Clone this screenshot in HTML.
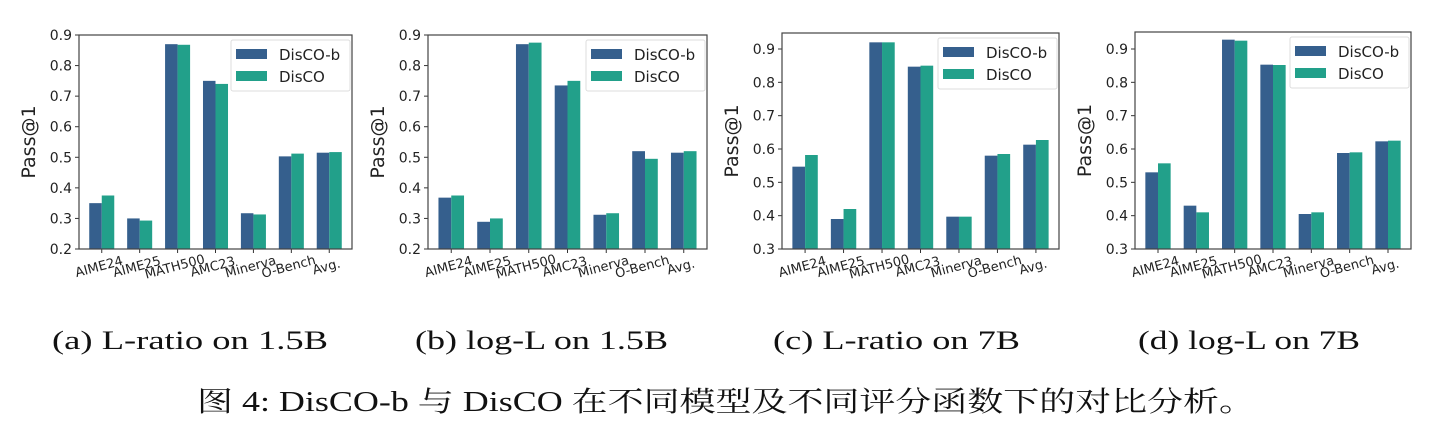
<!DOCTYPE html>
<html><head><meta charset="utf-8"><style>
html,body{margin:0;padding:0;background:#fff;}
svg{display:block;}
</style></head><body>
<svg id="s" width="1446" height="442" xmlns="http://www.w3.org/2000/svg" font-family="'DejaVu Sans','Liberation Sans',sans-serif">
<g font-family="'Liberation Serif',serif" font-size="26" fill="#111">
<text x="52" y="349" textLength="276" lengthAdjust="spacingAndGlyphs">(a) L-ratio on 1.5B</text>
<text x="415" y="349" textLength="253" lengthAdjust="spacingAndGlyphs">(b) log-L on 1.5B</text>
<text x="773" y="349" textLength="247" lengthAdjust="spacingAndGlyphs">(c) L-ratio on 7B</text>
<text x="1138" y="349" textLength="222" lengthAdjust="spacingAndGlyphs">(d) log-L on 7B</text>
</g>
<text x="197" y="411" font-family="'Liberation Serif','Noto Serif CJK SC',serif" font-size="28" fill="#111" textLength="1058" lengthAdjust="spacingAndGlyphs">图 4: DisCO-b 与 DisCO 在不同模型及不同评分函数下的对比分析。</text>
</svg>
<script>
var NS="http://www.w3.org/2000/svg",s=document.getElementById('s');
function el(t,a,txt){var e=document.createElementNS(NS,t);for(var k in a)e.setAttribute(k,a[k]);if(txt!=null)e.textContent=txt;s.appendChild(e);return e;}
var cats=["AIME24","AIME25","MATH500","AMC23","Minerva","O-Bench","Avg."];
var P=[
{l:79,r:352,t:35,b:249,y0:0.2,y1:0.9,ticks:[0.2,0.3,0.4,0.5,0.6,0.7,0.8,0.9],
 B:[.35,.30,.87,.75,.317,.503,.515],D:[.375,.293,.868,.74,.313,.512,.517]},
{l:428,r:707,t:35,b:249,y0:0.2,y1:0.9,ticks:[0.2,0.3,0.4,0.5,0.6,0.7,0.8,0.9],
 B:[.368,.289,.87,.735,.312,.52,.515],D:[.375,.30,.875,.75,.317,.495,.52]},
{l:782,r:1059,t:33,b:249,y0:0.3,y1:0.948,ticks:[0.3,0.4,0.5,0.6,0.7,0.8,0.9],
 B:[.547,.39,.92,.847,.397,.58,.613],D:[.582,.42,.92,.85,.397,.585,.627]},
{l:1135,r:1411,t:32,b:249,y0:0.3,y1:0.951,ticks:[0.3,0.4,0.5,0.6,0.7,0.8,0.9],
 B:[.53,.43,.928,.853,.405,.588,.623],D:[.557,.41,.925,.852,.41,.59,.625]}];
var CB="#355f8d",CD="#22a08a";
P.forEach(function(p){
 var W=p.r-p.l,H=p.b-p.t,gx=W/7.2,bw=gx*0.33;
 function Y(v){return p.b-(v-p.y0)/(p.y1-p.y0)*H;}
 for(var i=0;i<7;i++){
  var cx=p.l+(i+0.6)*gx;
  el('rect',{x:cx-bw,y:Y(p.B[i]),width:bw,height:p.b-Y(p.B[i]),fill:CB});
  el('rect',{x:cx,y:Y(p.D[i]),width:bw,height:p.b-Y(p.D[i]),fill:CD});
  el('line',{x1:cx,x2:cx,y1:p.b,y2:p.b+4,stroke:"#333","stroke-width":1});
  el('text',{x:cx-3,y:p.b+22,"font-size":13,"text-anchor":"middle",fill:"#222",transform:"rotate(-15 "+(cx-3)+" "+(p.b+17)+")"},cats[i]);
 }
 p.ticks.forEach(function(v){var y=Y(v);
  el('line',{x1:p.l-4,x2:p.l,y1:y,y2:y,stroke:"#333","stroke-width":1});
  el('text',{x:p.l-7,y:y+5,"font-size":14,"text-anchor":"end",fill:"#222"},v.toFixed(1));});
 el('rect',{x:p.l,y:p.t,width:W,height:H,fill:"none",stroke:"#444","stroke-width":1.2});
 var yc=(p.t+p.b)/2,lx=p.l-44;
 el('text',{x:lx,y:yc,"font-size":19,"text-anchor":"middle",fill:"#222",transform:"rotate(-90 "+lx+" "+yc+")"},"Pass@1");
 var bx=p.r-121,by=p.t+5;
 el('rect',{x:bx,y:by,width:119,height:51,fill:"#fff",stroke:"#ddd","stroke-width":1,rx:2});
 el('rect',{x:bx+5,y:by+9,width:31,height:10,fill:CB});
 el('rect',{x:bx+5,y:by+31,width:31,height:10,fill:CD});
 el('text',{x:bx+48,y:by+20,"font-size":15,fill:"#222"},"DisCO-b");
 el('text',{x:bx+48,y:by+42,"font-size":15,fill:"#222"},"DisCO");
});
</script>
</body></html>
